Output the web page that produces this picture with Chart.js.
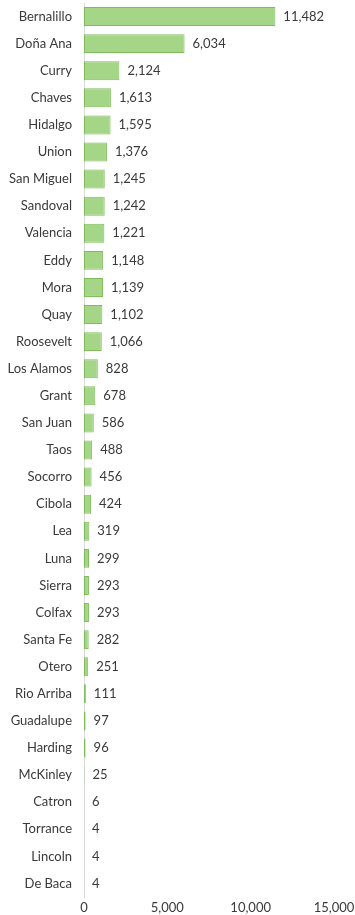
<!DOCTYPE html>
<html lang="en">
<head>
    <meta charset="UTF-8">
    <title>Counties</title>
    <style>
        body {
            margin: 0;
            background-color: #ffffff;
        }
        .wrap {
            position: relative;
            width: 355px;
            height: 915px;
        }
    </style>
    <script src="https://cdn.jsdelivr.net/npm/chart.js"></script>
</head>
<body>

    <div class="wrap">
        <canvas id="countyChart"></canvas>
    </div>

    <script>
        var counties = ['Bernalillo', 'Doña Ana', 'Curry', 'Chaves', 'Hidalgo', 'Union', 'San Miguel',
            'Sandoval', 'Valencia', 'Eddy', 'Mora', 'Quay', 'Roosevelt', 'Los Alamos', 'Grant',
            'San Juan', 'Taos', 'Socorro', 'Cibola', 'Lea', 'Luna', 'Sierra', 'Colfax', 'Santa Fe',
            'Otero', 'Rio Arriba', 'Guadalupe', 'Harding', 'McKinley', 'Catron', 'Torrance',
            'Lincoln', 'De Baca'];
        var counts = [11482, 6034, 2124, 1613, 1595, 1376, 1245, 1242, 1221, 1148, 1139, 1102, 1066,
            828, 678, 586, 488, 456, 424, 319, 299, 293, 293, 282, 251, 111, 97, 96, 25, 6, 4, 4, 4];
        var xTicks = [0, 5000, 10000, 15000];

        var fontFamily = "Lato, 'Open Sans', sans-serif";

        // value labels at the end of each bar
        var valueLabels = {
            id: 'valueLabels',
            afterDatasetsDraw: function (chart) {
                var ctx = chart.ctx;
                var meta = chart.getDatasetMeta(0);
                ctx.save();
                ctx.font = '13px ' + fontFamily;
                ctx.fillStyle = '#3a3a3a';
                ctx.textAlign = 'left';
                ctx.textBaseline = 'middle';
                meta.data.forEach(function (bar, i) {
                    ctx.fillText(counts[i].toLocaleString('en-US'), bar.x + 8, bar.y);
                });
                ctx.restore();
            }
        };

        var ctx = document.getElementById('countyChart').getContext('2d');
        var chart = new Chart(ctx, {
            type: 'bar',
            data: {
                labels: counties,
                datasets: [{
                    data: counts,
                    backgroundColor: '#a5d688',
                    borderColor: '#7fbd5c',
                    borderWidth: 1,
                    borderSkipped: false,
                    barPercentage: 0.7,
                    categoryPercentage: 1
                }]
            },
            options: {
                indexAxis: 'y',
                responsive: true,
                maintainAspectRatio: false,
                animation: false,
                layout: {
                    padding: { top: 3, right: 21, bottom: 0, left: 0 }
                },
                plugins: {
                    legend: { display: false },
                    tooltip: { enabled: false }
                },
                scales: {
                    x: {
                        min: 0,
                        max: 15000,
                        afterBuildTicks: function (scale) {
                            scale.ticks = xTicks.map(function (v) { return { value: v }; });
                        },
                        grid: { display: false, drawTicks: false },
                        border: { display: false },
                        ticks: {
                            padding: 3,
                            color: '#3a3a3a',
                            font: { family: fontFamily, size: 13 },
                            maxRotation: 0,
                            callback: function (v) { return Number(v).toLocaleString('en-US'); }
                        },
                        afterFit: function (scale) {
                            scale.height = 18;
                            scale.paddingLeft = 0;
                            scale.paddingRight = 0;
                        }
                    },
                    y: {
                        grid: { display: false, drawTicks: false },
                        border: { display: true, color: '#d9d9d9', width: 1 },
                        ticks: {
                            padding: 12,
                            color: '#3a3a3a',
                            font: { family: fontFamily, size: 13 },
                            autoSkip: false
                        },
                        afterFit: function (scale) {
                            scale.width = 84;
                            scale.paddingTop = 0;
                            scale.paddingBottom = 0;
                        }
                    }
                }
            },
            plugins: [valueLabels]
        });
    </script>

</body>
</html>
